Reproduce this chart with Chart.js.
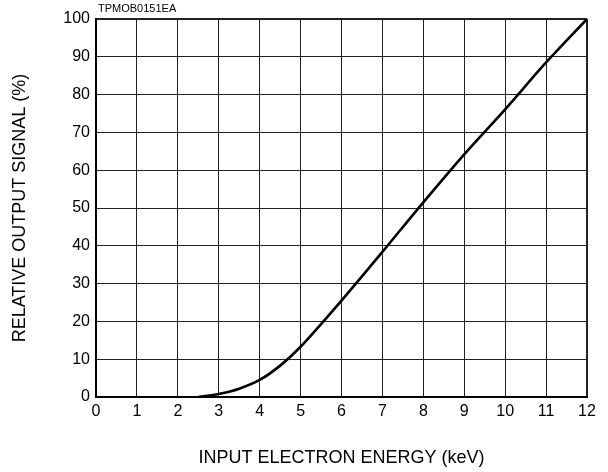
<!DOCTYPE html>
<html>
<head>
<meta charset="utf-8">
<script src="https://cdn.jsdelivr.net/npm/chart.js@4/dist/chart.umd.min.js"></script>
<style>
  html, body { margin: 0; padding: 0; background: #fff; }
  #wrap { width: 608px; height: 472px; position: relative; }
</style>
</head>
<body>
<div id="wrap"><canvas id="c" width="608" height="472"></canvas></div>
<script>
const energyKeV = [2.5, 3, 3.5, 4, 4.5, 5, 5.5, 6, 6.5, 7, 8, 9, 10, 11, 12];
const relativeSignal = [0, 0.8, 2.2, 4.5, 8.3, 13.3, 19.3, 25.5, 31.9, 38.4, 51.5, 64.2, 76.1, 88.5, 100];
const xTicks = [0, 1, 2, 3, 4, 5, 6, 7, 8, 9, 10, 11, 12];
const yTicks = [0, 10, 20, 30, 40, 50, 60, 70, 80, 90, 100];
const chartCode = 'TPMOB0151EA';
const xTitle = 'INPUT ELECTRON ENERGY (keV)';
const yTitle = 'RELATIVE OUTPUT SIGNAL (%)';

const points = energyKeV.map((x, i) => ({ x: x, y: relativeSignal[i] }));
const FONT = '"Liberation Sans", Arial, Helvetica, sans-serif';

const codePlugin = {
  id: 'codeLabel',
  afterDraw(chart) {
    const ctx = chart.ctx;
    ctx.save();
    ctx.fillStyle = '#000';
    ctx.font = '11px ' + FONT;
    ctx.textAlign = 'left';
    ctx.textBaseline = 'alphabetic';
    ctx.fillText(chartCode, chart.chartArea.left + 2, 12);
    ctx.restore();
  }
};

new Chart(document.getElementById('c'), {
  type: 'scatter',
  data: {
    datasets: [{
      data: points,
      showLine: true,
      borderColor: '#000',
      borderWidth: 2.6,
      pointRadius: 0,
      cubicInterpolationMode: 'monotone',
      fill: false
    }]
  },
  options: {
    responsive: false,
    animation: false,
    devicePixelRatio: 1,
    layout: { padding: { top: 19, right: 21, bottom: 0, left: 0 } },
    plugins: { legend: { display: false }, tooltip: { enabled: false } },
    scales: {
      x: {
        type: 'linear',
        min: 0, max: 12,
        afterBuildTicks(scale) { scale.ticks = xTicks.map(v => ({ value: v })); },
        afterFit(scale) { scale.height = 75; },
        ticks: { color: '#000', font: { family: FONT, size: 16 }, padding: 5, maxRotation: 0 },
        grid: {
          color: '#222',
          lineWidth: ctx => (ctx.tick && ctx.tick.value === 12) ? 2 : 1,
          drawTicks: false
        },
        border: { display: true, color: '#000', width: 2 },
        title: { display: true, text: xTitle, color: '#000', font: { family: FONT, size: 18 }, padding: { top: 0, bottom: 3 } }
      },
      y: {
        type: 'linear',
        min: 0, max: 100,
        afterBuildTicks(scale) { scale.ticks = yTicks.map(v => ({ value: v })); },
        afterFit(scale) { scale.width = 96; },
        ticks: { color: '#000', font: { family: FONT, size: 16 }, padding: 6 },
        grid: {
          color: '#222',
          lineWidth: ctx => (ctx.tick && ctx.tick.value === 100) ? 2 : 1,
          drawTicks: false
        },
        border: { display: true, color: '#000', width: 2 },
        title: { display: true, text: yTitle, color: '#000', font: { family: FONT, size: 18 }, padding: { top: 9, bottom: 0 } }
      }
    }
  },
  plugins: [codePlugin]
});
</script>
</body>
</html>
